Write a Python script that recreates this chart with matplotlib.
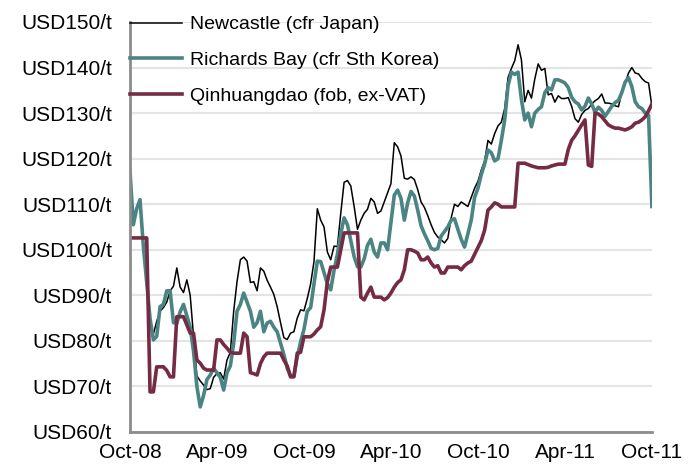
import matplotlib
matplotlib.use('Agg')
import matplotlib.pyplot as plt
import matplotlib.dates as mdates
import pandas as pd

plt.rcParams['font.family'] = ['Liberation Sans', 'DejaVu Sans']

# weekly prices, Oct-08 .. Oct-11 (USD/t)
dates = pd.date_range('2008-10-06', periods=157, freq='7D')

newcastle = [
    117.3, 105.5, 109.0, 110.8, 100.8, 92.8, 84.0, 81.5, 84.3, 86.5,
    87.3, 88.5, 91.0, 92.0, 96.0, 91.8, 90.6, 93.4, 90.0, 81.0,
    72.3, 71.2, 70.3, 69.3, 69.5, 72.0, 72.8, 73.0, 71.6, 75.8,
    77.5, 86.5, 93.0, 97.8, 98.4, 97.5, 92.8, 93.0, 91.0, 96.0,
    95.3, 93.3, 91.8, 90.2, 87.5, 84.0, 80.7, 80.3, 81.7, 82.0,
    85.0, 86.8, 86.6, 89.3, 92.5, 97.4, 109.0, 106.5, 105.0, 99.5,
    97.8, 100.8, 100.7, 108.0, 114.8, 115.2, 114.0, 109.5, 104.5, 106.5,
    108.0, 108.9, 111.3, 110.5, 108.0, 108.5, 110.5, 112.5, 114.5, 123.5,
    122.6, 120.6, 115.7, 115.5, 116.0, 115.4, 113.2, 110.5, 109.3, 107.5,
    105.5, 103.8, 102.8, 102.2, 101.5, 102.5, 107.0, 110.0, 109.5, 110.5,
    110.0, 109.5, 111.5, 113.5, 115.0, 117.5, 119.5, 124.0, 123.2, 125.5,
    127.2, 128.0, 131.0, 137.8, 139.8, 141.5, 145.0, 141.7, 132.5, 135.0,
    133.3, 137.5, 140.8, 139.4, 139.8, 134.0, 134.3, 132.4, 133.8, 133.2,
    133.2, 133.4, 131.5, 128.8, 128.0, 129.7, 130.6, 131.0, 132.0, 132.7,
    133.2, 134.2, 132.2, 132.2, 132.0, 131.6, 131.4, 134.5, 136.5, 138.8,
    140.0, 138.8, 138.6, 137.6, 136.9, 136.6, 131.5,
]

richards_bay = [
    117.5, 105.5, 109.0, 111.0, 100.8, 92.8, 84.9, 80.2, 81.0, 87.5,
    88.0, 91.0, 91.0, 84.0, 83.8, 86.4, 88.0, 85.5, 83.0, 77.7,
    70.0, 65.5, 68.0, 71.5, 72.5, 74.0, 73.0, 72.0, 69.2, 73.0,
    74.5, 79.5, 86.5, 88.0, 90.5, 88.5, 86.5, 83.0, 84.0, 86.5,
    82.0, 83.9, 84.3, 83.0, 82.0, 79.5, 77.0, 74.0, 72.3, 72.3,
    76.5, 79.8, 82.5, 86.5, 87.3, 92.5, 97.5, 97.4, 95.0, 92.5,
    91.2, 95.5, 99.0, 103.5, 107.0, 105.5, 102.0, 98.5, 96.3, 96.2,
    98.0, 101.0, 102.3, 99.5, 98.4, 101.5, 101.5, 100.0, 106.0, 112.0,
    113.1, 111.3, 106.5, 110.3, 112.8, 111.8, 108.7, 105.3, 103.5, 102.0,
    100.3, 100.0, 100.3, 103.0, 104.0, 105.0, 106.5, 106.8, 104.5, 102.3,
    100.6, 103.5, 106.5, 111.5, 113.5, 116.5, 118.8, 121.9, 121.3, 119.5,
    120.0, 124.0, 128.5, 136.0, 139.0, 138.5, 139.0, 133.0, 128.5, 130.0,
    127.0, 130.0, 130.8, 131.4, 134.5, 135.6, 135.1, 137.3, 137.3, 137.0,
    136.6, 135.6, 133.5, 132.5, 132.0, 130.7, 131.5, 133.3, 132.0, 130.2,
    131.3, 130.6, 129.3, 130.4, 131.5, 132.3, 132.8, 134.5, 136.8, 137.8,
    135.8, 132.5, 131.4, 131.0, 130.0, 129.5, 109.5,
]

qinhuangdao = [
    102.6, 102.6, 102.6, 102.6, 102.6, 102.6, 68.8, 68.8, 74.3, 74.3,
    74.3, 73.5, 72.1, 72.1, 85.3, 85.3, 85.3, 83.5, 81.7, 81.7,
    75.8, 75.1, 74.0, 73.6, 73.6, 73.6, 80.2, 80.2, 79.2, 78.4,
    77.5, 77.3, 77.3, 77.3, 81.7, 80.9, 73.0, 72.8, 72.5, 75.0,
    76.5, 77.3, 77.3, 77.3, 77.3, 77.3, 75.8, 74.5, 72.1, 72.1,
    77.3, 77.5, 80.9, 80.9, 80.9, 81.5, 82.4, 83.1, 86.8, 93.0,
    96.2, 96.2, 96.2, 100.0, 103.7, 103.7, 103.7, 103.7, 103.7, 89.6,
    89.0, 90.5, 91.8, 89.6, 89.6, 89.6, 89.0, 89.5, 90.5, 91.8,
    92.8, 93.4, 95.6, 100.0, 100.0, 99.7, 99.3, 97.8, 97.8, 98.4,
    97.1, 96.2, 96.5, 94.9, 94.9, 96.2, 96.2, 96.2, 96.2, 95.6,
    96.5, 97.1, 97.5, 99.0, 100.5, 102.0, 104.3, 108.7, 109.4, 110.3,
    110.0, 109.4, 109.4, 109.4, 109.4, 109.4, 119.0, 119.0, 119.0, 118.7,
    118.4, 118.2, 118.0, 118.0, 118.0, 118.1, 118.4, 118.6, 118.8, 118.8,
    118.8, 122.0, 124.0, 125.0, 126.2, 127.4, 128.5, 118.6, 118.3, 130.0,
    129.8, 129.2, 128.3, 127.4, 127.0, 126.7, 126.7, 126.5, 126.3, 126.6,
    127.0, 127.8, 128.0, 128.5, 129.2, 130.5, 132.0,
]

y_ticks = list(range(60, 151, 10))

fig = plt.figure(figsize=(6.95, 4.68), dpi=100)
ax = fig.add_axes([0.187, 0.077, 0.751, 0.876])

ax.plot(dates, newcastle, color='black', lw=1.1, label='Newcastle (cfr Japan)')
ax.plot(dates, richards_bay, color='#4a8583', lw=2.6, label='Richards Bay (cfr Sth Korea)')
ax.plot(dates, qinhuangdao, color='#742b43', lw=2.6, label='Qinhuangdao (fob, ex-VAT)')

ax.set_ylim(60, 150)
ax.set_yticks(y_ticks)
ax.set_yticklabels([f'USD{v}/t' for v in y_ticks])
ax.set_xlim(dates[0], dates[-1])
ax.set_xticks(dates[::26])
ax.xaxis.set_major_formatter(mdates.DateFormatter('%b-%y'))

ax.grid(axis='y', color='#e4e4e4', lw=1.5)
ax.set_axisbelow(True)
for side in ['top', 'right']:
    ax.spines[side].set_visible(False)
for side in ['left', 'bottom']:
    ax.spines[side].set_color('#8c8c8c')
    ax.spines[side].set_linewidth(2)
ax.tick_params(axis='both', length=0, labelsize=15, colors='black')
ax.tick_params(axis='y', pad=13)
ax.tick_params(axis='x', pad=8)

leg = ax.legend(loc='upper left', frameon=False, fontsize=14, handlelength=2.7,
                handletextpad=0.4, labelspacing=0.93, borderaxespad=0,
                borderpad=0, bbox_to_anchor=(0.0, 1.015))

fig.savefig('out.png', dpi=100)
